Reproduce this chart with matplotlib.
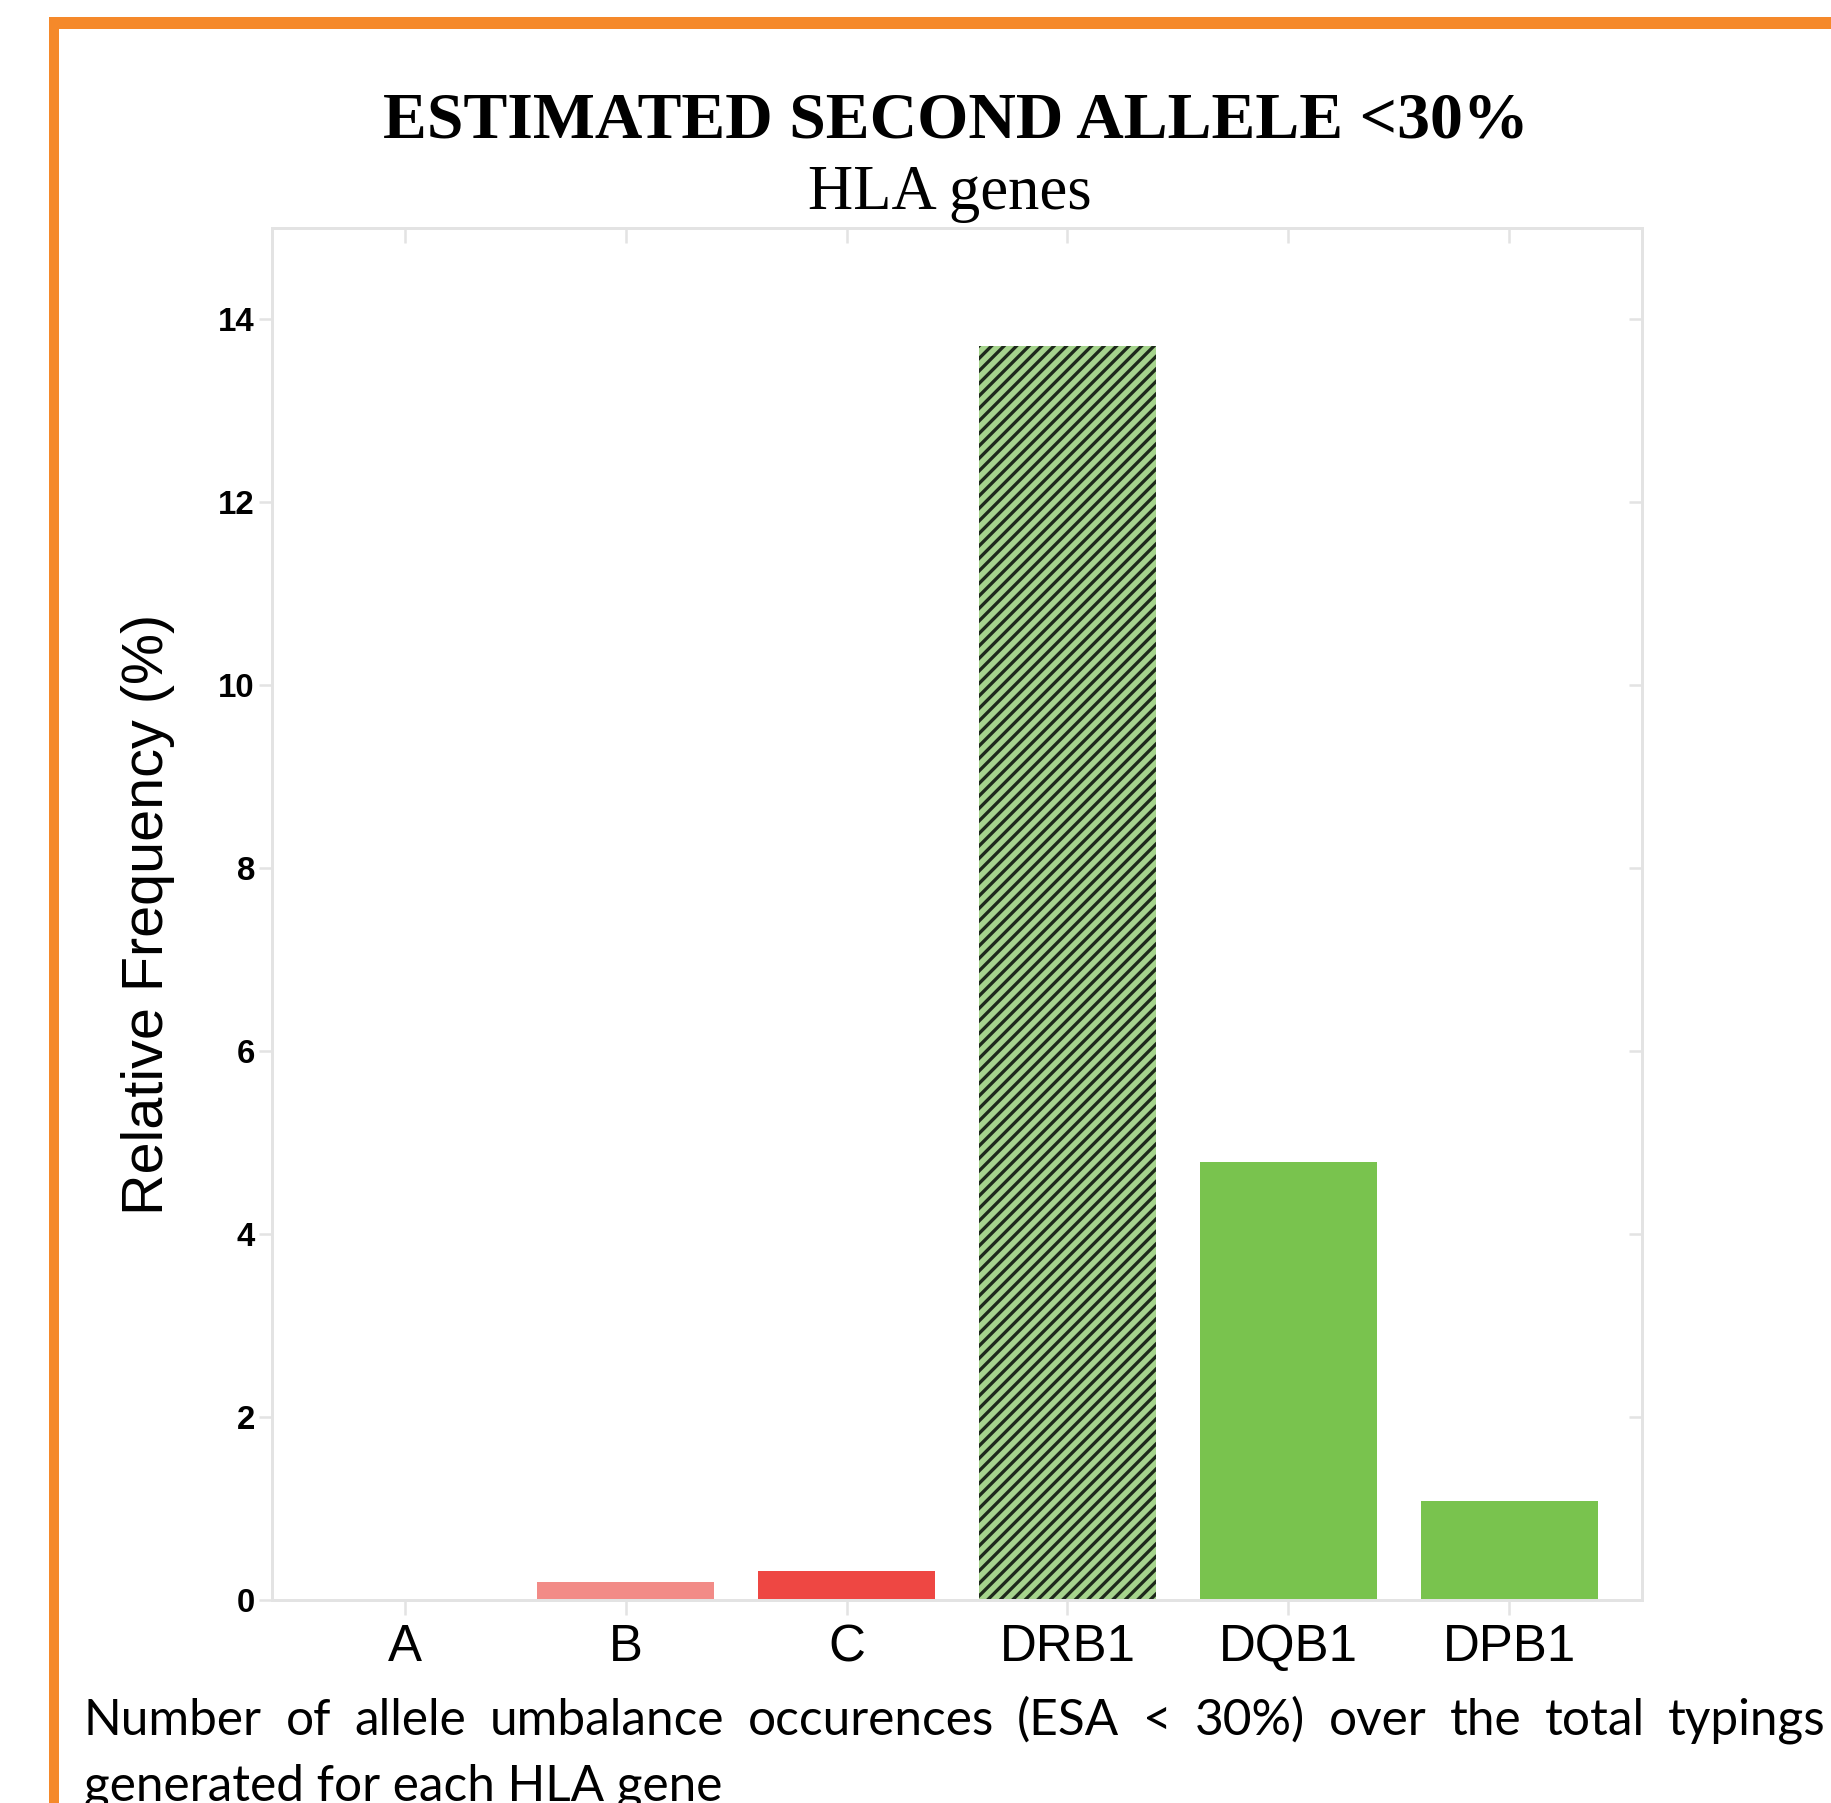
import numpy as np
import matplotlib
matplotlib.use('Agg')
import matplotlib.pyplot as plt
from matplotlib.patches import Rectangle

# data
genes = ['A', 'B', 'C', 'DRB1', 'DQB1', 'DPB1']
rel_freq = [0.0, 0.20, 0.32, 13.71, 4.79, 1.08]
bar_colors = ['#F28B87', '#F28B87', '#EE4743', '#A6D48D', '#79C34E', '#79C34E']
bar_hatch = [None, None, None, '////', None, None]
yticks = [0, 2, 4, 6, 8, 10, 12, 14]

title = 'ESTIMATED SECOND ALLELE <30%'
subtitle = 'HLA genes'
ylabel = 'Relative Frequency (%)'
caption1 = 'Number of allele umbalance occurences (ESA < 30%) over the total typings'
caption2 = 'generated for each HLA gene'

W, H = 1831, 1803
DPI = 150

def pt(px):
    return px * 72.0 / DPI

plt.rcParams['hatch.linewidth'] = pt(3.3)

fig = plt.figure(figsize=(W / DPI, H / DPI), dpi=DPI)
fig.patch.set_facecolor('white')

# orange frame (top and left edges)
orange = '#F5892A'
fig.patches.append(Rectangle((49 / W, 1 - 29 / H), 1, 12 / H, transform=fig.transFigure,
                             facecolor=orange, edgecolor='none', zorder=0))
fig.patches.append(Rectangle((49 / W, -0.01), 10 / W, 1 - 17 / H + 0.01, transform=fig.transFigure,
                             facecolor=orange, edgecolor='none', zorder=0))

ax = fig.add_axes([272 / W, 1 - 1600 / H, (1642 - 272) / W, (1600 - 228) / H])
x = np.arange(len(genes))
for i in range(len(genes)):
    if bar_hatch[i]:
        ax.bar(x[i], rel_freq[i], width=0.8, color=bar_colors[i], edgecolor='#1E2A1B',
               linewidth=0, hatch=bar_hatch[i])
    else:
        ax.bar(x[i], rel_freq[i], width=0.8, color=bar_colors[i], linewidth=0)

ax.set_xlim(-0.6, 5.6)
ax.set_ylim(0, 15)
ax.set_xticks(x)
ax.set_xticklabels(genes, fontsize=pt(51), family='Liberation Sans')
ax.set_yticks(yticks)
ax.set_yticklabels([str(v) for v in yticks], fontsize=pt(33), family='Liberation Sans', fontweight='bold')

grey = '#E3E3E3'
for s in ax.spines.values():
    s.set_color(grey)
    s.set_linewidth(pt(3))
ax.tick_params(axis='y', which='major', left=True, right=True, direction='out', length=pt(13),
               width=pt(2.5), color=grey, pad=pt(4))
ax.tick_params(axis='x', which='major', bottom=True, top=True, direction='out', length=pt(15),
               width=pt(2.5), color=grey, pad=pt(8))
# top / right ticks point inwards
for t in ax.yaxis.get_ticklines()[1::2]:
    t.set_marker(0)
for t in ax.xaxis.get_ticklines()[1::2]:
    t.set_marker(3)

fig.text(148 / W, 1 - 914 / H, ylabel, rotation=90, ha='center', va='center',
         fontsize=pt(57.5), family='Liberation Sans')

fig.text(956 / W, 1 - 138 / H, title, ha='center', va='baseline', fontsize=pt(65.8),
         family='Liberation Serif', fontweight='bold')
fig.text(950 / W, 1 - 209 / H, subtitle, ha='center', va='baseline', fontsize=pt(62.6),
         family='Liberation Serif')

# caption: second line cut by the bottom edge, first line justified
cap_family = ['Lato', 'DejaVu Sans']
t2 = fig.text(84 / W, 1 - 1800 / H, caption2, ha='left', va='baseline',
              fontsize=pt(44), family=cap_family)
fig.canvas.draw()
r = fig.canvas.get_renderer()
cap_size = pt(44) * 640 / t2.get_window_extent(r).width
t2.set_fontsize(cap_size)

words = caption1.split()
texts = [fig.text(0, 1 - 1735 / H, w, ha='left', va='baseline', fontsize=cap_size,
                  family=cap_family) for w in words]
fig.canvas.draw()
widths = [t.get_window_extent(r).width for t in texts]
left, right = 84, 1826
gap = (right - left - sum(widths)) / (len(words) - 1)
xpos = left
for t, w in zip(texts, widths):
    t.set_x(xpos / W)
    xpos += w + gap

fig.savefig('out.png', dpi=DPI)
